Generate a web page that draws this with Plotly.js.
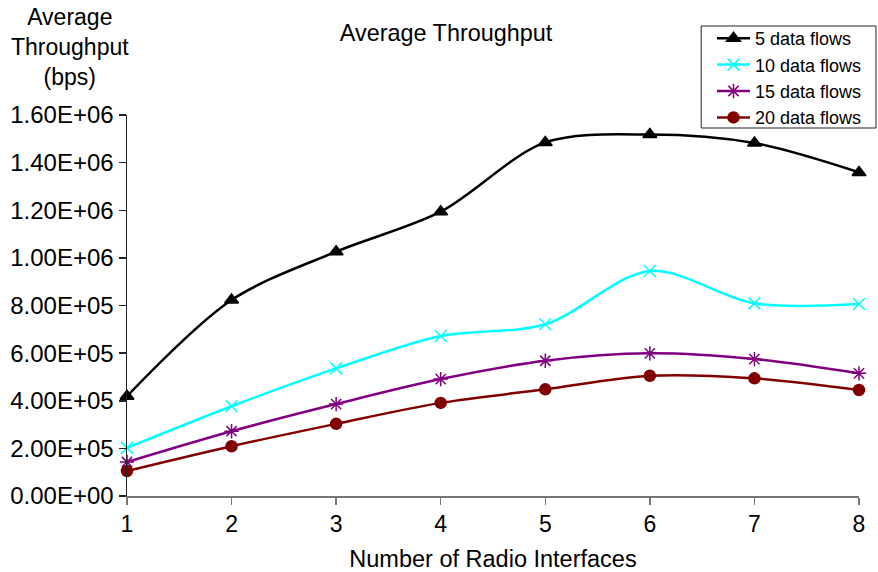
<!DOCTYPE html>
<html>
<head>
<meta charset="utf-8">
<script src="https://cdn.plot.ly/plotly-3.0.1.min.js"></script>
<style>
  html, body { margin: 0; padding: 0; background: #fff; }
  #chart { width: 878px; height: 572px; }
</style>
</head>
<body>
<div id="chart"></div>
<script>
// Number of radio interfaces on the x axis
const interfaces = [1, 2, 3, 4, 5, 6, 7, 8];

// Average throughput (bps) per number of concurrent data flows
const flows5  = [4.19e5, 8.23e5, 1.026e6, 1.194e6, 1.485e6, 1.518e6, 1.482e6, 1.359e6];
const flows10 = [2.02e5, 3.77e5, 5.36e5, 6.72e5, 7.21e5, 9.45e5, 8.09e5, 8.06e5];
const flows15 = [1.43e5, 2.72e5, 3.86e5, 4.91e5, 5.68e5, 5.99e5, 5.75e5, 5.15e5];
const flows20 = [1.05e5, 2.09e5, 3.03e5, 3.91e5, 4.48e5, 5.05e5, 4.94e5, 4.45e5];

const seriesNames = ['5 data flows', '10 data flows', '15 data flows', '20 data flows'];

// Y tick labels in scientific notation
const yTickVals = [0, 2e5, 4e5, 6e5, 8e5, 1e6, 1.2e6, 1.4e6, 1.6e6];
const yTickText = ['0.00E+00', '2.00E+05', '4.00E+05', '6.00E+05', '8.00E+05',
                   '1.00E+06', '1.20E+06', '1.40E+06', '1.60E+06'];

const FONT = 'Arial, "Liberation Sans", sans-serif';

// plot area in pixels, used to place the paper-relative decorations
const W = 878, H = 572, L = 127, R = 18, T = 115, B = 76;
const pw = W - L - R, ph = H - T - B;
const px = v => (v - L) / pw;
const py = v => (H - B - v) / ph;

function series(name, y, color, symbol, size) {
  return {
    x: interfaces, y: y, name: name, type: 'scatter', mode: 'lines+markers',
    cliponaxis: false,
    line: { color: color, width: 2.5, shape: 'spline', smoothing: 0.9 },
    marker: { color: color, symbol: symbol, size: size,
              line: { color: color, width: 1.5 } }
  };
}

const data = [
  series(seriesNames[0], flows5,  '#000000', 'triangle-up', 12),
  series(seriesNames[1], flows10, '#00FFFF', 'x-thin', 12),
  series(seriesNames[2], flows15, '#800080', 'asterisk', 12),
  series(seriesNames[3], flows20, '#800000', 'circle', 11)
];

const layout = {
  width: W, height: H,
  margin: { l: L, r: R, t: T, b: B },
  paper_bgcolor: '#ffffff', plot_bgcolor: 'rgba(0,0,0,0)',
  font: { family: FONT, color: '#000', size: 23 },
  showlegend: true,
  legend: {
    x: px(712), y: py(20), xanchor: 'left', yanchor: 'top',
    bgcolor: 'rgba(0,0,0,0)', borderwidth: 0,
    font: { family: FONT, size: 18, color: '#000' },
    tracegroupgap: 0, itemwidth: 33
  },
  // legend frame
  shapes: [{
    type: 'rect', xref: 'paper', yref: 'paper', layer: 'above',
    x0: px(702), x1: px(877), y0: py(128), y1: py(26),
    line: { color: '#222', width: 1 }, fillcolor: 'rgba(0,0,0,0)'
  }],
  xaxis: {
    range: [1, 8], tickvals: interfaces,
    showgrid: false, zeroline: false,
    showline: true, linecolor: '#777', linewidth: 1.5,
    ticks: 'outside', ticklen: 7, tickcolor: '#777', tickwidth: 1.5,
    tickfont: { family: FONT, size: 23 },
    title: { text: 'Number of Radio Interfaces', font: { family: FONT, size: 23.5 }, standoff: 17 }
  },
  yaxis: {
    range: [0, 1.6e6], tickvals: yTickVals, ticktext: yTickText,
    showgrid: false, zeroline: false,
    showline: true, linecolor: '#222', linewidth: 1.5,
    ticks: 'outside', ticklen: 7, tickcolor: '#222', tickwidth: 1.5,
    tickfont: { family: FONT, size: 24 }
  },
  title: {
    text: 'Average Throughput',
    font: { family: FONT, size: 23.4 },
    xref: 'paper', x: px(446.5), xanchor: 'center',
    yref: 'container', y: 1 - 33 / H, yanchor: 'middle'
  },
  annotations: [{
    text: 'Average<br>Throughput<br>(bps)',
    xref: 'paper', yref: 'paper',
    x: px(69.5), y: py(47),
    xanchor: 'center', yanchor: 'middle', showarrow: false,
    align: 'center',
    font: { family: FONT, size: 23, color: '#000' }
  }]
};

Plotly.newPlot('chart', data, layout, { displayModeBar: false, staticPlot: true });
</script>
</body>
</html>
